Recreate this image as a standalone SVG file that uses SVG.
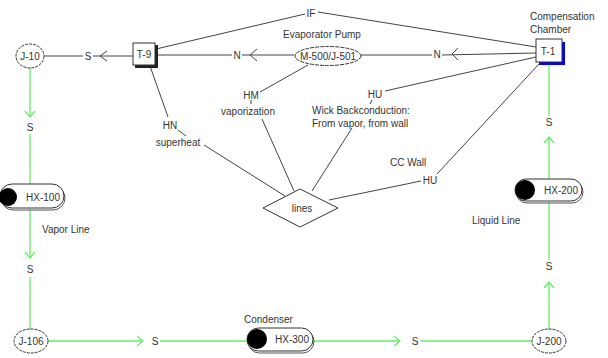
<svg xmlns="http://www.w3.org/2000/svg" width="608" height="358" viewBox="0 0 608 358">
<style>
text{font-family:"Liberation Sans",Arial,sans-serif;font-size:10px;fill:#333}
.c{text-anchor:middle}
.ln{stroke:#444;stroke-width:1;fill:none}
.g{stroke:#66ee66;stroke-width:1.3;fill:none}
.gh{stroke:#66ee66;stroke-width:1.3;fill:none}
.ah{stroke:#444;stroke-width:1;fill:none}
.node{fill:#fff;stroke:#333;stroke-width:1}
.sh{fill:#222}
.pill{fill:#fff;stroke:#333;stroke-width:1}
.pillsh{fill:none;stroke:#555;stroke-width:1}
.dot{fill:#000}
</style>
<rect width="608" height="358" fill="#fff"/>
<g id="connectors">
  <!-- J-10 to T-9 -->
  <line class="ln" x1="44" y1="56" x2="83" y2="56"/>
  <line class="ln" x1="93" y1="56" x2="133" y2="56"/>
  <polyline class="ah" points="107,51 100,56 107,61"/>
  <text class="c" x="88" y="60">S</text>
  <!-- T-9 to M-500 -->
  <line class="ln" x1="156" y1="55" x2="232" y2="55"/>
  <line class="ln" x1="242" y1="55" x2="294" y2="55"/>
  <polyline class="ah" points="257,49 250,55 257,61"/>
  <text class="c" x="237" y="59">N</text>
  <!-- M-500 to T-1 -->
  <line class="ln" x1="361" y1="55" x2="432" y2="55"/>
  <line class="ln" x1="442" y1="55" x2="536" y2="53"/>
  <polyline class="ah" points="458,48 452,54 458,60"/>
  <text class="c" x="437" y="58">N</text>
  <!-- IF -->
  <line class="ln" x1="156" y1="49" x2="305" y2="14"/>
  <line class="ln" x1="318" y1="12" x2="536" y2="47"/>
  <text class="c" x="311" y="17">IF</text>
  <!-- HM -->
  <line class="ln" x1="308" y1="65" x2="260" y2="92"/>
  <line class="ln" x1="251" y1="100" x2="251" y2="104"/>
  <text class="c" x="251" y="99">HM</text>
  <text class="c" x="248" y="115">vaporization</text>
  <line class="ln" x1="262" y1="119" x2="294" y2="191"/>
  <!-- HN -->
  <line class="ln" x1="150" y1="66" x2="168" y2="117"/>
  <text class="c" x="170" y="129">HN</text>
  <line class="ln" x1="178" y1="130" x2="186" y2="136"/>
  <text class="c" x="178" y="146">superheat</text>
  <line class="ln" x1="204" y1="145" x2="285" y2="196"/>
  <!-- HU upper -->
  <line class="ln" x1="385" y1="91" x2="536" y2="57"/>
  <text class="c" x="375" y="98">HU</text>
  <line class="ln" x1="372" y1="100" x2="370" y2="104"/>
  <text x="312" y="114">Wick Backconduction:</text>
  <text x="312" y="127">From vapor, from wall</text>
  <line class="ln" x1="352" y1="128" x2="312" y2="191"/>
  <!-- HU lower -->
  <line class="ln" x1="437" y1="174" x2="539" y2="64"/>
  <text x="390" y="166">CC Wall</text>
  <text class="c" x="430" y="184">HU</text>
  <line class="ln" x1="421" y1="181" x2="329" y2="200"/>
  <!-- green left vertical -->
  <line class="g" x1="30" y1="68" x2="30" y2="117"/>
  <polyline class="gh" points="25,111 30,117 35,111"/>
  <text class="c" x="30" y="131">S</text>
  <line class="g" x1="30" y1="134" x2="30" y2="186"/>
  <line class="g" x1="30" y1="209" x2="30" y2="258"/>
  <polyline class="gh" points="25,252 30,258 35,252"/>
  <text class="c" x="30" y="273">S</text>
  <line class="g" x1="30" y1="277" x2="30" y2="329"/>
  <!-- green bottom -->
  <line class="g" x1="48" y1="341" x2="143" y2="341"/>
  <polyline class="gh" points="137,336 143,341 137,346"/>
  <text class="c" x="155" y="345">S</text>
  <line class="g" x1="160" y1="341" x2="248" y2="341"/>
  <line class="g" x1="313" y1="341" x2="400" y2="341"/>
  <polyline class="gh" points="394,336 400,341 394,346"/>
  <text class="c" x="415" y="345">S</text>
  <line class="g" x1="421" y1="341" x2="532" y2="341"/>
  <!-- green right vertical -->
  <line class="g" x1="549" y1="329" x2="549" y2="282"/>
  <polyline class="gh" points="544,288 549,282 554,288"/>
  <text class="c" x="549" y="270">S</text>
  <line class="g" x1="549" y1="260" x2="549" y2="202"/>
  <line class="g" x1="549" y1="180" x2="549" y2="137"/>
  <polyline class="gh" points="544,143 549,137 554,143"/>
  <text class="c" x="549" y="126">S</text>
  <line class="g" x1="549" y1="116" x2="549" y2="64"/>
</g>
<g id="J-10">
  <ellipse class="node" cx="30" cy="56" rx="14" ry="12" stroke-dasharray="3,1"/>
  <text class="c" x="30" y="60">J-10</text>
</g>
<g id="T-9">
  <rect class="sh" x="135" y="45" width="23" height="23"/>
  <rect class="node" x="133" y="43" width="22" height="22"/>
  <text class="c" x="144" y="58">T-9</text>
</g>
<g id="M-500">
  <ellipse class="node" cx="328" cy="56" rx="33" ry="9.5" stroke-dasharray="4,1"/>
  <text class="c" x="328" y="60">M-500/J-501</text>
  <text class="c" x="322" y="38">Evaporator Pump</text>
</g>
<g id="T-1">
  <rect x="539" y="42" width="26" height="23" fill="#00f"/>
  <rect class="node" x="536" y="39" width="26" height="23"/>
  <text class="c" x="548" y="55">T-1</text>
  <text x="530" y="20">Compensation</text>
  <text x="530" y="33">Chamber</text>
</g>
<g id="lines">
  <polygon class="node" points="300,189 338,208 300,227 263,208"/>
  <text class="c" x="302" y="212">lines</text>
</g>
<g id="HX-100">
  <rect class="pillsh" x="1" y="186" width="64" height="24" rx="12"/>
  <rect class="pill" x="0" y="184" width="64" height="24" rx="12"/>
  <circle class="dot" cx="8" cy="197" r="9"/>
  <text class="c" x="43" y="201">HX-100</text>
  <text x="42" y="233">Vapor Line</text>
</g>
<g id="HX-200">
  <rect class="pillsh" x="516" y="181" width="67" height="22" rx="11"/>
  <rect class="pill" x="515" y="179" width="67" height="22" rx="11"/>
  <circle class="dot" cx="525" cy="190" r="10"/>
  <text class="c" x="561" y="194">HX-200</text>
  <text x="472" y="224">Liquid Line</text>
</g>
<g id="HX-300">
  <rect class="pillsh" x="248" y="330" width="66" height="23" rx="11.5"/>
  <rect class="pill" x="247" y="328" width="66" height="23" rx="11.5"/>
  <circle class="dot" cx="257" cy="339" r="10"/>
  <text class="c" x="292" y="343">HX-300</text>
  <text x="244" y="323">Condenser</text>
</g>
<g id="J-106">
  <ellipse class="node" cx="31" cy="341" rx="17" ry="12" stroke-dasharray="3,1"/>
  <text class="c" x="31" y="345">J-106</text>
</g>
<g id="J-200">
  <ellipse class="node" cx="549" cy="341" rx="17" ry="12" stroke-dasharray="3,1"/>
  <text class="c" x="549" y="345">J-200</text>
</g>
</svg>
